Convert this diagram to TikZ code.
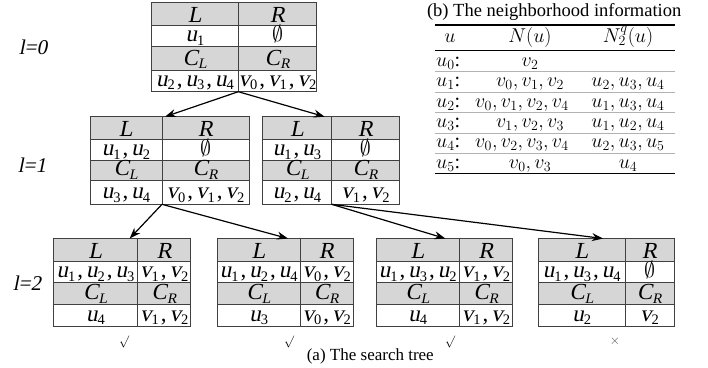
\RequirePackage{fix-cm}
\documentclass[tikz,border=0pt]{standalone}
\usepackage{fontspec}
\setmainfont{Liberation Serif}[ItalicFont={Liberation Serif},ItalicFeatures={FakeSlant=0.2}]
\usetikzlibrary{arrows.meta}

\newcommand{\sv}[2]{\textit{#1}\raisebox{-3.5pt}{\fontsize{14.5}{14.5}\selectfont #2}}
\newcommand{\sep}{\hspace{2pt},\hspace{3pt}}
\newcommand{\es}{{\fontsize{22}{22}\selectfont$\emptyset$}}

\tikzset{
  hdr/.style={fill=black!16},
  tgrid/.style={draw=black!75, line width=0.9pt},
  cell/.style={anchor=base, inner sep=0pt, font=\fontsize{23}{27}\selectfont},
  link/.style={-{Stealth[length=11pt,width=8pt]}, line width=1.2pt},
  lvl/.style={inner sep=0pt, font=\fontsize{21}{24}\selectfont\itshape},
  okmark/.style={inner sep=0pt},
  tb/.style={anchor=base, inner sep=0pt, font=\fontsize{20}{24}\selectfont},
  captext/.style={inner sep=0pt},
}

\newcommand{\mktable}[9]{%
  \def\tXL{#2}\def\tXD{#3}\def\tXR{#4}\def\tYa{#6}\def\tYb{#7}\def\tYc{#8}\def\tYB{#9}%
  \fill[hdr] (#2,#5) rectangle (#4,#6);
  \fill[hdr] (#2,#7) rectangle (#4,#8);
  \draw[tgrid] (#2,#5) rectangle (#4,#9) (#2,#6)--(#4,#6) (#2,#7)--(#4,#7) (#2,#8)--(#4,#8) (#3,#5)--(#3,#9);
  \coordinate (#1-top) at (#3,#5);
  \coordinate (#1-bot) at (#3,#9);
  \node[cell] (#1-hl) at ({(#2+#3)/2},{#6-3}) {\textit{L}};
  \node[cell] (#1-hr) at ({(#3+#4)/2},{#6-3}) {\textit{R}};
  \node[cell] (#1-hcl) at ({(#2+#3)/2},{#8-5}) {\sv{C}{\textit{L}}};
  \node[cell] (#1-hcr) at ({(#3+#4)/2},{#8-5}) {\sv{C}{\textit{R}}};
}
\newcommand{\tabvals}[5]{%
  \node[cell] (#1-l) at ({(\tXL+\tXD)/2},{\tYb-4.5}) {#2};
  \node[cell] (#1-r) at ({(\tXD+\tXR)/2},{\tYb-4.5}) {#3};
  \node[cell] (#1-cl) at ({(\tXL+\tXD)/2},{\tYB-5.5}) {#4};
  \node[cell] (#1-cr) at ({(\tXD+\tXR)/2},{\tYB-5.5}) {#5};
}

\begin{document}
\begin{tikzpicture}[x=1pt,y=-1pt]
\useasboundingbox (0,0) rectangle (708,367);

% level labels
\node[lvl] (lv0) at (33,47) {l=0};
\node[lvl] (lv1) at (32,165) {l=1};
\node[lvl] (lv2) at (27,283) {l=2};

% root
\mktable{root}{151.7}{238.3}{316.7}{2.7}{25}{46}{70}{91.7}
\tabvals{root}{\sv{u}{1}}{\es}{\sv{u}{2}\sep\sv{u}{3}\sep\sv{u}{4}}{\sv{v}{0}\sep\sv{v}{1}\sep\sv{v}{2}}

% level 1
\mktable{ma}{90}{162}{249}{116.7}{139.3}{160}{180.7}{204.3}
\tabvals{ma}{\sv{u}{1}\sep\sv{u}{2}}{\es}{\sv{u}{3}\sep\sv{u}{4}}{\sv{v}{0}\sep\sv{v}{1}\sep\sv{v}{2}}
\mktable{mb}{262.5}{331.7}{399.2}{116.7}{139.3}{160}{180.7}{204.3}
\tabvals{mb}{\sv{u}{1}\sep\sv{u}{3}}{\es}{\sv{u}{2}\sep\sv{u}{4}}{\sv{v}{1}\sep\sv{v}{2}}

% level 2
\mktable{la}{53.3}{137.7}{190.7}{238.5}{261.5}{282.3}{304.5}{326.7}
\tabvals{la}{\sv{u}{1}\sep\sv{u}{2}\sep\sv{u}{3}}{\sv{v}{1}\sep\sv{v}{2}}{\sv{u}{4}}{\sv{v}{1}\sep\sv{v}{2}}
\mktable{lb}{217.3}{300}{353.3}{238.5}{261.5}{282.3}{304.5}{326.7}
\tabvals{lb}{\sv{u}{1}\sep\sv{u}{2}\sep\sv{u}{4}}{\sv{v}{0}\sep\sv{v}{2}}{\sv{u}{3}}{\sv{v}{0}\sep\sv{v}{2}}
\mktable{lc}{376}{459.3}{512.7}{238.5}{261.5}{282.3}{304.5}{326.7}
\tabvals{lc}{\sv{u}{1}\sep\sv{u}{3}\sep\sv{u}{2}}{\sv{v}{1}\sep\sv{v}{2}}{\sv{u}{4}}{\sv{v}{1}\sep\sv{v}{2}}
\mktable{ld}{538.3}{625}{674}{238.5}{261.5}{282.3}{304.5}{326.7}
\tabvals{ld}{\sv{u}{1}\sep\sv{u}{3}\sep\sv{u}{4}}{\es}{\sv{u}{2}}{\sv{v}{2}}

% connectors
\draw[link] (root-bot) -- ([xshift=3pt]ma-top);
\draw[link] (root-bot) -- ([xshift=-7pt]mb-top);
\draw[link] (ma-bot) -- ([xshift=-8pt]la-top);
\draw[link] (ma-bot) -- ([xshift=-12pt]lb-top);
\draw[link] (mb-bot) -- ([xshift=-14pt]lc-top);
\draw[link] (mb-bot) -- ([xshift=-22pt]ld-top);

% marks
\node[okmark] (ka) at (124,341.7) {\fontsize{12}{12}\selectfont$\surd$};
\node[okmark] (kb) at (289,341.7) {\fontsize{12}{12}\selectfont$\surd$};
\node[okmark] (kc) at (450,341.7) {\fontsize{12}{12}\selectfont$\surd$};
\node[okmark] (kd) at (615,341.7) {\fontsize{13}{13}\selectfont\textcolor{black!70}{$\times$}};

\node[captext] (capa) at (370.3,356.7) {\fontsize{17}{20}\selectfont (a) The search tree};

% neighborhood table
\node[captext] (capb) at (554.2,11.7) {\fontsize{18.5}{22}\selectfont (b) The neighborhood information};
\coordinate (tl) at (435,25);
\coordinate (tr) at (675,25);
\draw[line width=1.3pt] (tl) -- (tr);
\draw[line width=1pt] (435,50) -- (675,50);
\draw[line width=1.3pt] (435,173.3) -- (675,173.3);
\foreach \yy in {71.7,92.3,112.8,133.3,153.5}
  \draw[black!30, line width=0.8pt] (435,\yy) -- (675,\yy);

\node[tb] (hu) at (450,42) {$u$};
\node[tb] (hn) at (530,42) {$N(u)$};
\node[tb] (hq) at (628,42) {$N_2^q(u)$};

\node[tb, anchor=base west] (r0) at (436,66.5) {$u_0$:};
\node[tb, anchor=base west] (r1) at (436,86.8) {$u_1$:};
\node[tb, anchor=base west] (r2) at (436,107.1) {$u_2$:};
\node[tb, anchor=base west] (r3) at (436,127.6) {$u_3$:};
\node[tb, anchor=base west] (r4) at (436,147.8) {$u_4$:};
\node[tb, anchor=base west] (r5) at (436,168.1) {$u_5$:};

\node[tb] (n0) at (530,66.5) {$v_2$};
\node[tb] (n1) at (530,86.8) {$v_0,v_1,v_2$};
\node[tb] (n2) at (522,107.1) {$v_0,v_1,v_2,v_4$};
\node[tb] (n3) at (530,127.6) {$v_1,v_2,v_3$};
\node[tb] (n4) at (522,147.8) {$v_0,v_2,v_3,v_4$};
\node[tb] (n5) at (530,168.1) {$v_0,v_3$};

\node[tb] (q1) at (628,86.8) {$u_2,u_3,u_4$};
\node[tb] (q2) at (628,107.1) {$u_1,u_3,u_4$};
\node[tb] (q3) at (628,127.6) {$u_1,u_2,u_4$};
\node[tb] (q4) at (628,147.8) {$u_2,u_3,u_5$};
\node[tb] (q5) at (628,168.1) {$u_4$};
\end{tikzpicture}
\end{document}
